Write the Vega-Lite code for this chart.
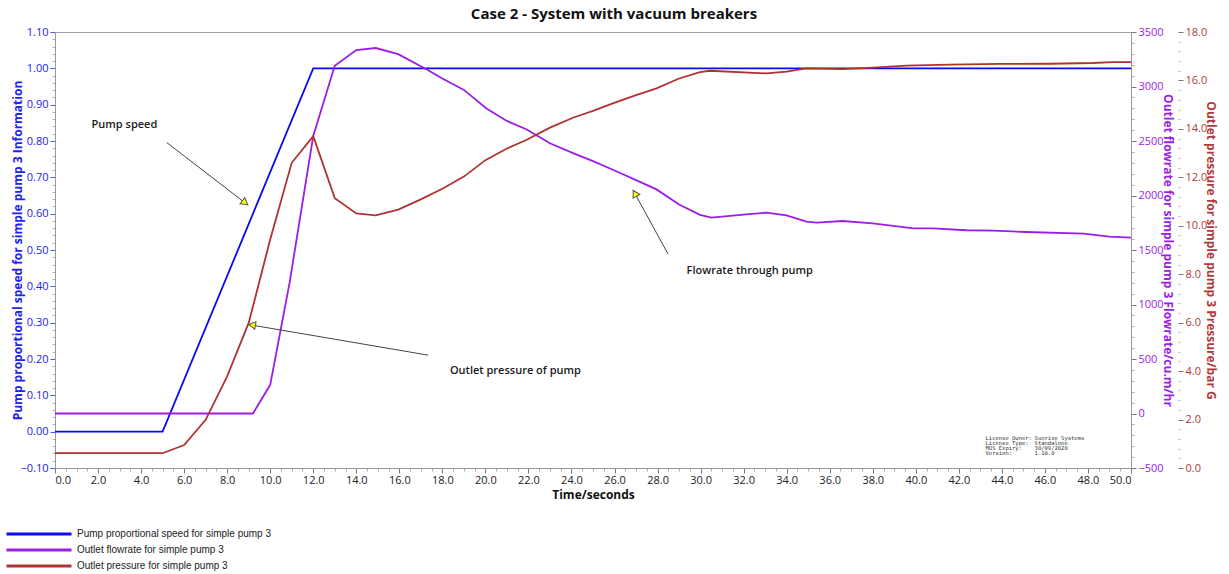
{
  "$schema": "https://vega.github.io/schema/vega-lite/v6.json",
  "width": 1076,
  "height": 436,
  "autosize": {"type": "none"},
  "padding": {"left": 55, "top": 32, "right": 98, "bottom": 106},
  "background": "white",
  "config": {
    "font": "Open Sans",
    "view": {"stroke": "#a0a0a0"},
    "axis": {"grid": false, "labelFontSize": 11, "titleFontSize": 12, "titleFontWeight": "bold", "domainColor": "#999999", "labelOverlap": false}
  },
  "title": {"text": "Case 2 - System with vacuum breakers", "fontSize": 15, "fontWeight": "bold", "color": "#111111", "anchor": "middle", "dx": 21, "offset": 4},
  "datasets": {
    "speed": [
      {"series": "Pump proportional speed for simple pump 3", "time": 0, "value": 0},
      {"series": "Pump proportional speed for simple pump 3", "time": 5, "value": 0},
      {"series": "Pump proportional speed for simple pump 3", "time": 12, "value": 1},
      {"series": "Pump proportional speed for simple pump 3", "time": 50, "value": 1}
    ],
    "flow": [
      {"series": "Outlet flowrate for simple pump 3", "time": 0, "value": 0},
      {"series": "Outlet flowrate for simple pump 3", "time": 9.2, "value": 0},
      {"series": "Outlet flowrate for simple pump 3", "time": 10, "value": 263},
      {"series": "Outlet flowrate for simple pump 3", "time": 10.9, "value": 1198},
      {"series": "Outlet flowrate for simple pump 3", "time": 12, "value": 2546},
      {"series": "Outlet flowrate for simple pump 3", "time": 13, "value": 3190},
      {"series": "Outlet flowrate for simple pump 3", "time": 14, "value": 3334},
      {"series": "Outlet flowrate for simple pump 3", "time": 14.9, "value": 3353},
      {"series": "Outlet flowrate for simple pump 3", "time": 15.95, "value": 3297},
      {"series": "Outlet flowrate for simple pump 3", "time": 17.3, "value": 3153},
      {"series": "Outlet flowrate for simple pump 3", "time": 18, "value": 3074},
      {"series": "Outlet flowrate for simple pump 3", "time": 19, "value": 2969},
      {"series": "Outlet flowrate for simple pump 3", "time": 20.05, "value": 2798},
      {"series": "Outlet flowrate for simple pump 3", "time": 21, "value": 2684},
      {"series": "Outlet flowrate for simple pump 3", "time": 21.9, "value": 2608},
      {"series": "Outlet flowrate for simple pump 3", "time": 23, "value": 2479},
      {"series": "Outlet flowrate for simple pump 3", "time": 24.1, "value": 2387},
      {"series": "Outlet flowrate for simple pump 3", "time": 25, "value": 2316},
      {"series": "Outlet flowrate for simple pump 3", "time": 25.95, "value": 2234},
      {"series": "Outlet flowrate for simple pump 3", "time": 27, "value": 2141},
      {"series": "Outlet flowrate for simple pump 3", "time": 27.95, "value": 2056},
      {"series": "Outlet flowrate for simple pump 3", "time": 29, "value": 1918},
      {"series": "Outlet flowrate for simple pump 3", "time": 29.97, "value": 1822},
      {"series": "Outlet flowrate for simple pump 3", "time": 30.5, "value": 1797},
      {"series": "Outlet flowrate for simple pump 3", "time": 32, "value": 1825},
      {"series": "Outlet flowrate for simple pump 3", "time": 33.06, "value": 1843},
      {"series": "Outlet flowrate for simple pump 3", "time": 33.99, "value": 1818},
      {"series": "Outlet flowrate for simple pump 3", "time": 34.92, "value": 1760},
      {"series": "Outlet flowrate for simple pump 3", "time": 35.4, "value": 1751},
      {"series": "Outlet flowrate for simple pump 3", "time": 36.6, "value": 1766},
      {"series": "Outlet flowrate for simple pump 3", "time": 38, "value": 1745},
      {"series": "Outlet flowrate for simple pump 3", "time": 39.9, "value": 1699},
      {"series": "Outlet flowrate for simple pump 3", "time": 40.8, "value": 1699},
      {"series": "Outlet flowrate for simple pump 3", "time": 42.35, "value": 1681},
      {"series": "Outlet flowrate for simple pump 3", "time": 43.6, "value": 1678},
      {"series": "Outlet flowrate for simple pump 3", "time": 45.1, "value": 1665},
      {"series": "Outlet flowrate for simple pump 3", "time": 47.8, "value": 1650},
      {"series": "Outlet flowrate for simple pump 3", "time": 49, "value": 1623},
      {"series": "Outlet flowrate for simple pump 3", "time": 50, "value": 1614}
    ],
    "pressure": [
      {"series": "Outlet pressure for simple pump 3", "time": 0, "value": 0.61},
      {"series": "Outlet pressure for simple pump 3", "time": 5, "value": 0.61},
      {"series": "Outlet pressure for simple pump 3", "time": 6, "value": 0.95},
      {"series": "Outlet pressure for simple pump 3", "time": 7, "value": 1.99},
      {"series": "Outlet pressure for simple pump 3", "time": 8, "value": 3.78},
      {"series": "Outlet pressure for simple pump 3", "time": 9, "value": 5.99},
      {"series": "Outlet pressure for simple pump 3", "time": 10, "value": 9.43},
      {"series": "Outlet pressure for simple pump 3", "time": 11, "value": 12.6},
      {"series": "Outlet pressure for simple pump 3", "time": 12, "value": 13.7},
      {"series": "Outlet pressure for simple pump 3", "time": 13, "value": 11.14},
      {"series": "Outlet pressure for simple pump 3", "time": 14, "value": 10.51},
      {"series": "Outlet pressure for simple pump 3", "time": 14.9, "value": 10.43},
      {"series": "Outlet pressure for simple pump 3", "time": 15.95, "value": 10.67},
      {"series": "Outlet pressure for simple pump 3", "time": 17, "value": 11.09},
      {"series": "Outlet pressure for simple pump 3", "time": 18, "value": 11.53},
      {"series": "Outlet pressure for simple pump 3", "time": 19, "value": 12.03},
      {"series": "Outlet pressure for simple pump 3", "time": 20, "value": 12.71},
      {"series": "Outlet pressure for simple pump 3", "time": 21, "value": 13.19},
      {"series": "Outlet pressure for simple pump 3", "time": 21.9, "value": 13.54},
      {"series": "Outlet pressure for simple pump 3", "time": 23, "value": 14.05},
      {"series": "Outlet pressure for simple pump 3", "time": 24.1, "value": 14.47},
      {"series": "Outlet pressure for simple pump 3", "time": 25, "value": 14.74},
      {"series": "Outlet pressure for simple pump 3", "time": 25.95, "value": 15.06},
      {"series": "Outlet pressure for simple pump 3", "time": 27, "value": 15.39},
      {"series": "Outlet pressure for simple pump 3", "time": 27.95, "value": 15.67},
      {"series": "Outlet pressure for simple pump 3", "time": 29, "value": 16.08},
      {"series": "Outlet pressure for simple pump 3", "time": 29.97, "value": 16.34},
      {"series": "Outlet pressure for simple pump 3", "time": 30.43, "value": 16.4},
      {"series": "Outlet pressure for simple pump 3", "time": 33.06, "value": 16.29},
      {"series": "Outlet pressure for simple pump 3", "time": 33.99, "value": 16.36},
      {"series": "Outlet pressure for simple pump 3", "time": 34.92, "value": 16.5},
      {"series": "Outlet pressure for simple pump 3", "time": 36.62, "value": 16.47},
      {"series": "Outlet pressure for simple pump 3", "time": 38.01, "value": 16.53},
      {"series": "Outlet pressure for simple pump 3", "time": 39.56, "value": 16.61},
      {"series": "Outlet pressure for simple pump 3", "time": 41.57, "value": 16.65},
      {"series": "Outlet pressure for simple pump 3", "time": 43.89, "value": 16.68},
      {"series": "Outlet pressure for simple pump 3", "time": 46.21, "value": 16.69},
      {"series": "Outlet pressure for simple pump 3", "time": 48.22, "value": 16.72},
      {"series": "Outlet pressure for simple pump 3", "time": 49.15, "value": 16.76},
      {"series": "Outlet pressure for simple pump 3", "time": 50, "value": 16.76}
    ],
    "notes": [
      {"note": "Pump speed", "time": 1.7, "speed": 0.844},
      {"note": "Outlet pressure of pump", "time": 18.35, "speed": 0.167},
      {"note": "Flowrate through pump", "time": 29.35, "speed": 0.443}
    ],
    "arrows": [
      {"arrow": "speed", "time": 5.19, "speed": 0.796, "time2": 8.98, "speed2": 0.623},
      {"arrow": "pressure", "time": 17.34, "speed": 0.2106, "time2": 8.98, "speed2": 0.295},
      {"arrow": "flow", "time": 28.49, "speed": 0.4886, "time2": 26.86, "speed2": 0.665}
    ],
    "heads": [
      {"arrow": "speed", "time": 8.79, "speed": 0.632},
      {"arrow": "pressure", "time": 9.21, "speed": 0.293},
      {"arrow": "flow", "time": 26.97, "speed": 0.653}
    ],
    "license": [
      {"label": "License Owner:", "value": "Sunrise Systems", "time": 43.24, "time2": 45.52, "speed": -0.0165},
      {"label": "License Type:", "value": "Standalone", "time": 43.24, "time2": 45.52, "speed": -0.03},
      {"label": "MUS Expiry:", "value": "30/09/2020", "time": 43.24, "time2": 45.52, "speed": -0.044},
      {"label": "Version:", "value": "1.10.0", "time": 43.24, "time2": 45.52, "speed": -0.058}
    ]
  },
  "encoding": {
    "x": {
      "field": "time", "type": "quantitative",
      "scale": {"domain": [0, 50], "nice": false, "zero": false},
      "axis": {"orient": "bottom", "values": [0,0.5,1,1.5,2,2.5,3,3.5,4,4.5,5,5.5,6,6.5,7,7.5,8,8.5,9,9.5,10,10.5,11,11.5,12,12.5,13,13.5,14,14.5,15,15.5,16,16.5,17,17.5,18,18.5,19,19.5,20,20.5,21,21.5,22,22.5,23,23.5,24,24.5,25,25.5,26,26.5,27,27.5,28,28.5,29,29.5,30,30.5,31,31.5,32,32.5,33,33.5,34,34.5,35,35.5,36,36.5,37,37.5,38,38.5,39,39.5,40,40.5,41,41.5,42,42.5,43,43.5,44,44.5,45,45.5,46,46.5,47,47.5,48,48.5,49,49.5,50],
        "labelExpr": "abs(datum.value/2-round(datum.value/2))<0.01 ? format(datum.value,'.1f') : ''",
        "tickSize": {"condition": {"test": "abs(datum.value/2-round(datum.value/2))<0.01", "value": 5}, "value": 3},
        "tickColor": {"condition": {"test": "abs(datum.value/2-round(datum.value/2))<0.01", "value": "#777777"}, "value": "#b0b0b0"},
        "labelColor": "#222222", "labelPadding": 1, "title": "Time/seconds", "titleColor": "#111111", "titlePadding": 4}
    }
  },
  "layer": [
    {
      "data": {"name": "speed"},
      "mark": {"type": "line", "strokeWidth": 1.8, "clip": true},
      "encoding": {
        "y": {"field": "value", "type": "quantitative", "scale": {"domain": [-0.1, 1.1], "nice": false, "zero": false},
          "axis": {"orient": "left", "values": [-0.1,-0.08,-0.06,-0.04,-0.02,0,0.02,0.04,0.06,0.08,0.1,0.12,0.14,0.16,0.18,0.2,0.22,0.24,0.26,0.28,0.3,0.32,0.34,0.36,0.38,0.4,0.42,0.44,0.46,0.48,0.5,0.52,0.54,0.56,0.58,0.6,0.62,0.64,0.66,0.68,0.7,0.72,0.74,0.76,0.78,0.8,0.82,0.84,0.86,0.88,0.9,0.92,0.94,0.96,0.98,1.0,1.02,1.04,1.06,1.08,1.1],
            "labelExpr": "abs(datum.value*10-round(datum.value*10))<0.01 ? format(datum.value,'.2f') : ''",
            "tickSize": {"condition": {"test": "abs(datum.value*10-round(datum.value*10))<0.01", "value": 5}, "value": 3},
            "tickColor": {"condition": {"test": "abs(datum.value*10-round(datum.value*10))<0.01", "value": "#5555dd"}, "value": "#b0b0b0"},
            "labelColor": "#2222ee", "title": "Pump proportional speed for simple pump 3 Information", "titleColor": "#2222ee", "titlePadding": -5}},
        "color": {"field": "series", "type": "nominal",
          "scale": {"domain": ["Pump proportional speed for simple pump 3", "Outlet flowrate for simple pump 3", "Outlet pressure for simple pump 3"], "range": ["#0a0af5", "#9b1de6", "#b03232"]},
          "legend": {"orient": "none", "legendX": -50, "legendY": 494, "direction": "vertical", "title": null, "symbolType": "stroke", "symbolSize": 4225, "symbolStrokeWidth": 3, "clipHeight": 16, "labelLimit": 600, "labelFont": "Liberation Sans", "labelFontSize": 10, "labelColor": "#222222", "labelOffset": 4, "rowPadding": 0}}
      }
    },
    {
      "data": {"name": "flow"},
      "mark": {"type": "line", "strokeWidth": 1.8, "clip": true},
      "encoding": {
        "y": {"field": "value", "type": "quantitative", "scale": {"domain": [-500, 3500], "nice": false, "zero": false},
          "axis": {"orient": "right", "values": [-500,-400,-300,-200,-100,0,100,200,300,400,500,600,700,800,900,1000,1100,1200,1300,1400,1500,1600,1700,1800,1900,2000,2100,2200,2300,2400,2500,2600,2700,2800,2900,3000,3100,3200,3300,3400,3500],
            "labelExpr": "datum.value % 500 === 0 ? format(datum.value,'d') : ''",
            "tickSize": {"condition": {"test": "datum.value % 500 === 0", "value": 5}, "value": 3},
            "tickColor": {"condition": {"test": "datum.value % 500 === 0", "value": "#777777"}, "value": "#b0b0b0"},
            "labelColor": "#9b1de6", "title": "Outlet flowrate for simple pump 3 Flowrate/cu.m/hr", "titleColor": "#9b1de6", "titlePadding": -3}},
        "color": {"field": "series", "type": "nominal"}
      }
    },
    {
      "data": {"name": "pressure"},
      "mark": {"type": "line", "strokeWidth": 1.8, "clip": true},
      "encoding": {
        "y": {"field": "value", "type": "quantitative", "scale": {"domain": [0, 18], "nice": false, "zero": false},
          "axis": {"orient": "right", "offset": 47, "domain": false, "values": [0,0.4,0.8,1.2,1.6,2,2.4,2.8,3.2,3.6,4,4.4,4.8,5.2,5.6,6,6.4,6.8,7.2,7.6,8,8.4,8.8,9.2,9.6,10,10.4,10.8,11.2,11.6,12,12.4,12.8,13.2,13.6,14,14.4,14.8,15.2,15.6,16,16.4,16.8,17.2,17.6,18],
            "labelExpr": "abs(datum.value/2-round(datum.value/2))<0.01 ? format(datum.value,'.1f') : ''",
            "tickSize": {"condition": {"test": "abs(datum.value/2-round(datum.value/2))<0.01", "value": 5}, "value": 2},
            "tickColor": {"condition": {"test": "abs(datum.value/2-round(datum.value/2))<0.01", "value": "#777777"}, "value": "#b8b8b8"},
            "labelColor": "#b03a3a", "title": "Outlet pressure for simple pump 3 Pressure/bar G", "titleColor": "#b03a3a", "titlePadding": -3}},
        "color": {"field": "series", "type": "nominal"}
      }
    },
    {
      "data": {"name": "arrows"},
      "mark": {"type": "rule", "color": "#444444", "strokeWidth": 1},
      "encoding": {
        "y": {"field": "speed", "type": "quantitative", "scale": {"domain": [-0.1, 1.1], "nice": false, "zero": false}, "axis": null},
        "x2": {"field": "time2"},
        "y2": {"field": "speed2"}
      }
    },
    {
      "data": {"name": "heads"},
      "transform": [{"filter": "datum.arrow === 'speed'"}],
      "mark": {"type": "point", "shape": "triangle", "size": 60, "angle": 127.5, "filled": true, "fill": "#ffff00", "stroke": "#555555", "strokeWidth": 1, "opacity": 1},
      "encoding": {
        "y": {"field": "speed", "type": "quantitative", "scale": {"domain": [-0.1, 1.1], "nice": false, "zero": false}, "axis": null}
      }
    },
    {
      "data": {"name": "heads"},
      "transform": [{"filter": "datum.arrow === 'pressure'"}],
      "mark": {"type": "point", "shape": "triangle", "size": 60, "angle": 279.7, "filled": true, "fill": "#ffff00", "stroke": "#555555", "strokeWidth": 1, "opacity": 1},
      "encoding": {
        "y": {"field": "speed", "type": "quantitative", "scale": {"domain": [-0.1, 1.1], "nice": false, "zero": false}, "axis": null}
      }
    },
    {
      "data": {"name": "heads"},
      "transform": [{"filter": "datum.arrow === 'flow'"}],
      "mark": {"type": "point", "shape": "triangle", "size": 60, "angle": 331.3, "filled": true, "fill": "#ffff00", "stroke": "#555555", "strokeWidth": 1, "opacity": 1},
      "encoding": {
        "y": {"field": "speed", "type": "quantitative", "scale": {"domain": [-0.1, 1.1], "nice": false, "zero": false}, "axis": null}
      }
    },
    {
      "data": {"name": "notes"},
      "mark": {"type": "text", "align": "left", "baseline": "middle", "fontSize": 11, "fontWeight": 600, "color": "#1a1a1a"},
      "encoding": {
        "y": {"field": "speed", "type": "quantitative", "scale": {"domain": [-0.1, 1.1], "nice": false, "zero": false}, "axis": null},
        "text": {"field": "note"}
      }
    },
    {
      "data": {"name": "license"},
      "mark": {"type": "text", "align": "left", "baseline": "middle", "fontSize": 5.5, "font": "DejaVu Sans Mono", "color": "#333333"},
      "encoding": {
        "y": {"field": "speed", "type": "quantitative", "scale": {"domain": [-0.1, 1.1], "nice": false, "zero": false}, "axis": null},
        "text": {"field": "label"}
      }
    },
    {
      "data": {"name": "license"},
      "mark": {"type": "text", "align": "left", "baseline": "middle", "fontSize": 5.5, "font": "DejaVu Sans Mono", "color": "#333333"},
      "encoding": {
        "x": {"field": "time2", "type": "quantitative"},
        "y": {"field": "speed", "type": "quantitative", "scale": {"domain": [-0.1, 1.1], "nice": false, "zero": false}, "axis": null},
        "text": {"field": "value"}
      }
    }
  ],
  "resolve": {"scale": {"y": "independent"}}
}
